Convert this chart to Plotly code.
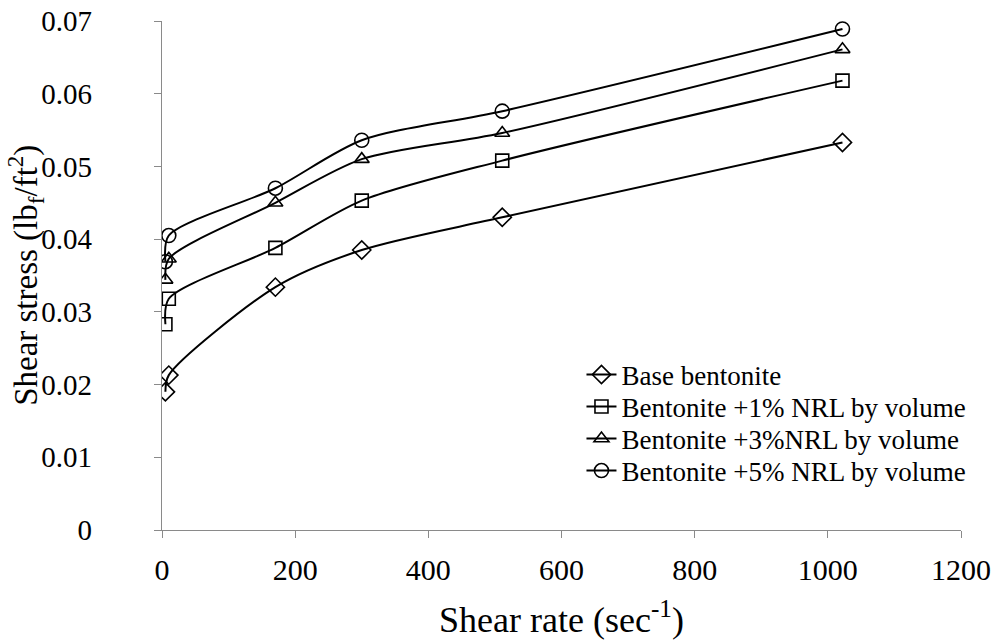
import plotly.graph_objects as go

# Shear rates (sec^-1) and measured shear stress (lbf/ft^2) for each mud
shear_rate = [5.11, 10.22, 170.3, 300, 511, 1022]

base_bentonite = [0.0190, 0.0213, 0.0334, 0.0385, 0.0430, 0.0533]
nrl_1pct = [0.0283, 0.0318, 0.0388, 0.0453, 0.0508, 0.0618]
nrl_3pct = [0.0344, 0.0373, 0.0450, 0.0510, 0.0546, 0.0661]
nrl_5pct = [0.0369, 0.0405, 0.0470, 0.0536, 0.0576, 0.0689]

series_names = [
    "Base bentonite",
    "Bentonite +1% NRL by volume",
    "Bentonite +3%NRL by volume",
    "Bentonite +5% NRL by volume",
]
series_values = [base_bentonite, nrl_1pct, nrl_3pct, nrl_5pct]
symbols = ["diamond-open", "square-open", "triangle-up-open", "circle-open"]
marker_sizes = [14, 13, 13, 14]

x_ticks = [0, 200, 400, 600, 800, 1000, 1200]
y_ticks = [0, 0.01, 0.02, 0.03, 0.04, 0.05, 0.06, 0.07]
y_tick_text = ["0", "0.01", "0.02", "0.03", "0.04", "0.05", "0.06", "0.07"]

FONT = "'Liberation Serif', 'Times New Roman', serif"
AXIS_GREY = "#8a8a8a"

# one legend box per series so the rows sit at a fixed pitch
legend_ids = ["legend", "legend2", "legend3", "legend4"]
legend_rows_y = [0.3045, 0.2417, 0.1788, 0.1159]

fig = go.Figure()
for name, vals, sym, ms, lid in zip(series_names, series_values, symbols,
                                     marker_sizes, legend_ids):
    fig.add_trace(go.Scatter(
        x=shear_rate,
        y=vals,
        name=name,
        mode="lines+markers",
        legend=lid,
        line=dict(color="black", width=2, shape="spline", smoothing=0.8),
        marker=dict(symbol=sym, size=ms, color="black",
                    line=dict(color="black", width=1.6)),
    ))

legend_style = dict(
    x=0.525, xanchor="left", yanchor="middle",
    bgcolor="rgba(0,0,0,0)",
    font=dict(family=FONT, size=27, color="black"),
    itemwidth=30,
)

fig.update_layout(
    width=995,
    height=640,
    paper_bgcolor="white",
    plot_bgcolor="white",
    margin=dict(l=162, r=34, t=21, b=110, autoexpand=False),
    font=dict(family=FONT, color="black", size=30),
    showlegend=True,
    legend=dict(y=legend_rows_y[0], **legend_style),
    legend2=dict(y=legend_rows_y[1], **legend_style),
    legend3=dict(y=legend_rows_y[2], **legend_style),
    legend4=dict(y=legend_rows_y[3], **legend_style),
    annotations=[dict(
        text="Shear stress (lb<sub>f</sub>/ft<sup>2</sup>)",
        xref="paper", yref="paper", x=-0.171, y=0.5,
        xanchor="center", yanchor="middle", textangle=-90,
        showarrow=False, font=dict(family=FONT, size=33, color="black"),
    )],
)

fig.update_xaxes(
    range=[0, 1200],
    tickvals=x_ticks,
    automargin=False,
    showgrid=False,
    zeroline=False,
    showline=True,
    linecolor=AXIS_GREY,
    linewidth=1.3,
    ticks="outside",
    ticklen=7,
    tickcolor=AXIS_GREY,
    ticklabelstandoff=6,
    tickfont=dict(family=FONT, size=30),
    title=dict(text="Shear rate (sec<sup>-1</sup>)",
               font=dict(family=FONT, size=36), standoff=21),
)
fig.update_yaxes(
    range=[0, 0.07],
    tickvals=y_ticks,
    ticktext=y_tick_text,
    automargin=False,
    showgrid=False,
    zeroline=False,
    showline=True,
    linecolor=AXIS_GREY,
    linewidth=1.3,
    ticks="outside",
    ticklen=7,
    tickcolor=AXIS_GREY,
    ticklabelstandoff=56,
    tickfont=dict(family=FONT, size=29),
)

fig.write_html("out.html")
